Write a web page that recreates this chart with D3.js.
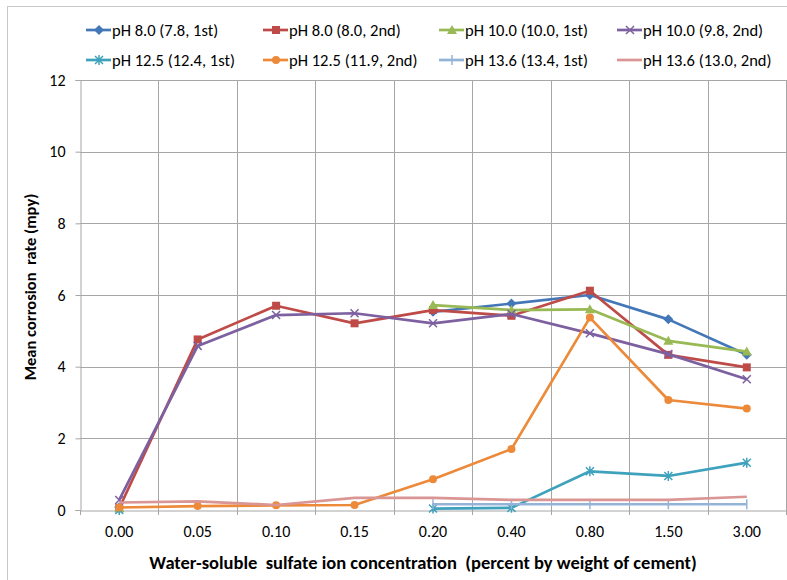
<!DOCTYPE html>
<html>
<head>
<meta charset="utf-8">
<script src="https://cdn.jsdelivr.net/npm/d3@7"></script>
<style>
  html, body { margin: 0; padding: 0; background: #fff; }
  svg { display: block; }
  text { font-family: Carlito, "Liberation Sans Narrow", "Liberation Sans", sans-serif; }
</style>
</head>
<body>
<svg id="chart" width="787" height="580"></svg>
<script>
const categories = ["0.00", "0.05", "0.10", "0.15", "0.20", "0.40", "0.80", "1.50", "3.00"];
const yTicks = [0, 2, 4, 6, 8, 10, 12];

const seriesNames = [
  "pH 8.0 (7.8, 1st)", "pH 8.0 (8.0, 2nd)", "pH 10.0 (10.0, 1st)", "pH 10.0 (9.8, 2nd)",
  "pH 12.5 (12.4, 1st)", "pH 12.5 (11.9, 2nd)", "pH 13.6 (13.4, 1st)", "pH 13.6 (13.0, 2nd)"
];
const ph80a  = [0.08, null, null, null, 5.53, 5.76, 6.00, 5.32, 4.33];
const ph80b  = [0.05, 4.76, 5.70, 5.21, 5.58, 5.42, 6.12, 4.33, 3.98];
const ph100a = [0.05, null, null, null, 5.72, 5.58, 5.60, 4.72, 4.42];
const ph100b = [0.28, 4.58, 5.44, 5.49, 5.21, 5.47, 4.93, 4.35, 3.65];
const ph125a = [0.00, null, null, null, 0.04, 0.06, 1.08, 0.95, 1.32];
const ph125b = [0.07, 0.11, 0.13, 0.14, 0.86, 1.70, 5.37, 3.07, 2.83];
const ph136a = [null, null, null, null, 0.16, 0.16, 0.16, 0.16, 0.16];
const ph136b = [0.21, 0.24, 0.14, 0.34, 0.34, 0.28, 0.28, 0.28, 0.37];

const seriesValues = [ph80a, ph80b, ph100a, ph100b, ph125a, ph125b, ph136a, ph136b];
const seriesColors = ["#4477B8", "#BE4B48", "#98B954", "#7D60A0", "#3FA2BC", "#EC8A3A", "#95B3D7", "#D99694"];
const seriesMarkers = ["diamond", "square", "triangle", "x", "star", "circle", "plus", "none"];

const svg = d3.select("#chart");
const plot = { left: 80, right: 786, top: 80, bottom: 510 };
const FONT = 'Carlito, "Liberation Sans Narrow", "Liberation Sans", sans-serif';

// outer chart border
svg.append("rect").attr("x", 7.5).attr("y", 6.5).attr("width", 790).attr("height", 590)
  .attr("fill", "none").attr("stroke", "#c8c8c8").attr("stroke-width", 1);

const x = d3.scaleBand().domain(categories).range([plot.left, plot.right]).padding(0);
const y = d3.scaleLinear().domain([0, 12]).range([plot.bottom, plot.top]);

const gridColor = "#a6a6a6";

// horizontal gridlines
svg.append("g").selectAll("line").data(yTicks.filter(d => d > 0)).join("line")
  .attr("x1", plot.left).attr("x2", plot.right)
  .attr("y1", d => Math.round(y(d)) + 0.5).attr("y2", d => Math.round(y(d)) + 0.5)
  .attr("stroke", gridColor).attr("stroke-width", 1);

// vertical gridlines at band boundaries
const bounds = categories.slice(1).map(c => x(c)).concat([plot.right]);
svg.append("g").selectAll("line").data(bounds).join("line")
  .attr("x1", d => Math.round(d) + 0.5).attr("x2", d => Math.round(d) + 0.5)
  .attr("y1", plot.top).attr("y2", plot.bottom)
  .attr("stroke", gridColor).attr("stroke-width", 1);

// y axis
const yAxis = svg.append("g").attr("transform", `translate(${plot.left + 0.5},0)`)
  .call(d3.axisLeft(y).tickValues(yTicks).tickSize(5).tickPadding(10).tickFormat(d3.format("d")));
yAxis.select(".domain").attr("stroke", gridColor);
yAxis.selectAll(".tick line").attr("stroke", gridColor);
yAxis.selectAll(".tick text").attr("font-size", 16).attr("fill", "#000").style("font-family", FONT);

// x axis
const xAxis = svg.append("g").attr("transform", `translate(0,${plot.bottom + 0.5})`)
  .call(d3.axisBottom(x).tickSize(0).tickPadding(15));
xAxis.select(".domain").attr("stroke", gridColor);
xAxis.selectAll(".tick text").attr("font-size", 16).attr("fill", "#000").style("font-family", FONT);
svg.append("g").selectAll("line").data([plot.left].concat(bounds)).join("line")
  .attr("x1", d => Math.round(d) + 0.5).attr("x2", d => Math.round(d) + 0.5)
  .attr("y1", plot.bottom).attr("y2", plot.bottom + 5)
  .attr("stroke", gridColor);

// axis titles
svg.append("text").attr("x", 423).attr("y", 569).attr("text-anchor", "middle")
  .attr("font-size", 18.5).attr("font-weight", "bold").attr("fill", "#000")
  .style("white-space", "pre")
  .text("Water-soluble  sulfate ion concentration  (percent by weight of cement)");
svg.append("text").attr("transform", "translate(36,287) rotate(-90)").attr("text-anchor", "middle")
  .attr("font-size", 16.5).attr("font-weight", "bold").attr("fill", "#000")
  .style("white-space", "pre")
  .text("Mean corrosion  rate (mpy)");

// marker drawing
function drawMarker(g, type, color) {
  const s = 4;
  switch (type) {
    case "diamond":
      g.append("path").attr("d", `M0,${-s-1}L${s+1},0L0,${s+1}L${-s-1},0Z`).attr("fill", color); break;
    case "square":
      g.append("rect").attr("x", -s).attr("y", -s).attr("width", 2*s).attr("height", 2*s).attr("fill", color); break;
    case "triangle":
      g.append("path").attr("d", `M0,${-s-1}L${s+1},${s}L${-s-1},${s}Z`).attr("fill", color); break;
    case "circle":
      g.append("circle").attr("r", s).attr("fill", color); break;
    case "x":
      g.append("path").attr("d", `M${-s},${-s}L${s},${s}M${-s},${s}L${s},${-s}`).attr("stroke", color).attr("stroke-width", 1.5); break;
    case "star":
      g.append("path").attr("d", `M${-s},${-s}L${s},${s}M${-s},${s}L${s},${-s}M0,${-s-1}L0,${s+1}`).attr("stroke", color).attr("stroke-width", 1.5); break;
    case "plus":
      g.append("path").attr("d", `M0,${-s-1}L0,${s+1}`).attr("stroke", color).attr("stroke-width", 1.5); break;
  }
}

const cx = c => x(c) + x.bandwidth() / 2;
const line = d3.line().defined(d => d.v !== null).x(d => cx(d.c)).y(d => y(d.v));

seriesValues.forEach((vals, i) => {
  const pts = categories.map((c, j) => ({ c, v: vals[j] }));
  const g = svg.append("g");
  g.append("path").datum(pts).attr("d", line).attr("fill", "none")
    .attr("stroke", seriesColors[i]).attr("stroke-width", 2.7).attr("stroke-linejoin", "round");
  pts.filter(p => p.v !== null).forEach(p => {
    const mg = g.append("g").attr("transform", `translate(${cx(p.c)},${y(p.v)})`);
    drawMarker(mg, seriesMarkers[i], seriesColors[i]);
  });
});

// legend
const legX = [86, 263, 439, 617];
const legY = [30, 60];
seriesNames.forEach((name, i) => {
  const lx = legX[i % 4], ly = legY[Math.floor(i / 4)];
  const g = svg.append("g").attr("transform", `translate(${lx},${ly})`);
  g.append("line").attr("x1", 0).attr("x2", 25).attr("y1", 0).attr("y2", 0)
    .attr("stroke", seriesColors[i]).attr("stroke-width", 2.7);
  const mg = g.append("g").attr("transform", "translate(13,0)");
  drawMarker(mg, seriesMarkers[i], seriesColors[i]);
  g.append("text").attr("x", 26).attr("y", 5.5).attr("font-size", 16.5).attr("fill", "#000").text(name);
});
</script>
</body>
</html>
